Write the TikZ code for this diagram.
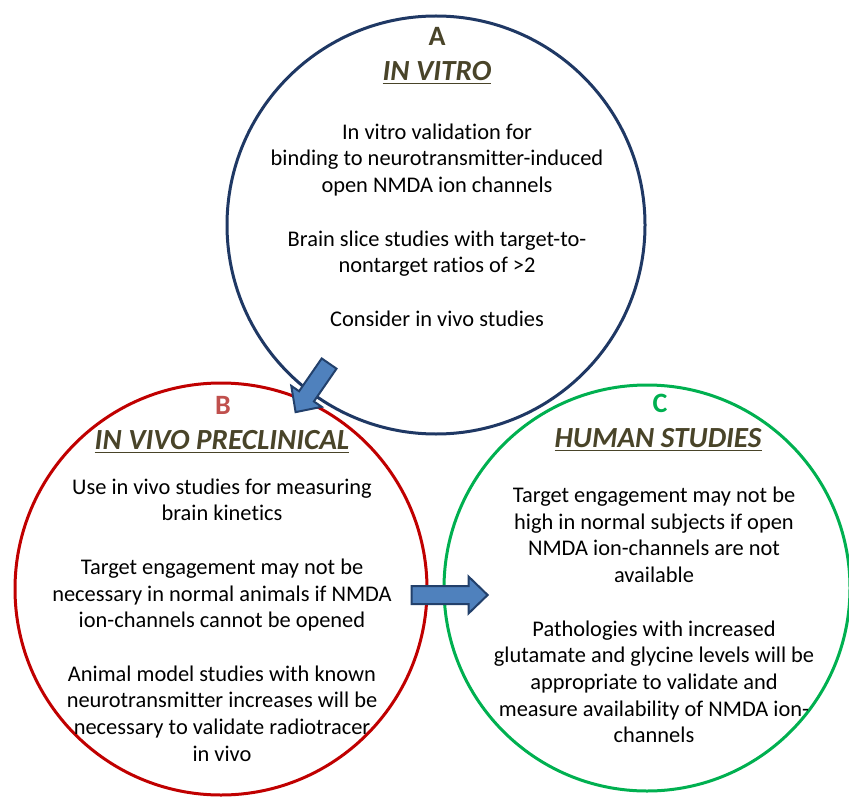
\documentclass[tikz,border=0pt]{standalone}
\usepackage{fontspec}
\setmainfont{Carlito}[Ligatures=NoCommon]
\usetikzlibrary{shapes.arrows}
\definecolor{navyA}{HTML}{1F3864}
\definecolor{redB}{HTML}{C00000}
\definecolor{greenC}{HTML}{00B050}
\definecolor{olive}{HTML}{494429}
\definecolor{letterB}{HTML}{C0504D}
\definecolor{arrowfill}{HTML}{4F81BD}
\definecolor{arrowline}{HTML}{22406B}
\begin{document}
\begin{tikzpicture}[x=0.5pt,y=-0.5pt,
  ring/.style={circle,line width=1.5pt,inner sep=0pt},
  letter/.style={font=\fontsize{14}{16}\selectfont\bfseries},
  heading/.style={font=\fontsize{14.6}{16}\selectfont\bfseries\itshape,text=olive},
  body/.style={align=center,font=\fontsize{11.2}{13.35}\selectfont},
  blockarrow/.style={single arrow,draw=arrowline,fill=arrowfill,line width=1pt,
    inner xsep=0pt,inner ysep=4pt,single arrow head extend=4.75pt,
    single arrow tip angle=88}]
\useasboundingbox (0,0) rectangle (849,796);
% circles
\node[ring,draw=navyA,minimum size=209pt] (A) at (436,225) {};
\node[ring,draw=redB,minimum size=206pt] (B) at (221,589) {};
\node[ring,draw=greenC,minimum size=203pt] (C) at (647,588) {};
% A
\node[letter,text=olive] (Aletter) at (437,36) {A};
\node[heading] (Ahead) at (437,73) {\underline{IN VITRO}};
\node[body] (Atext) at (437,225) {In vitro validation for\\
  binding to neurotransmitter-induced\\ open NMDA ion channels\\[13.35pt]
  Brain slice studies with target-to-\\ nontarget ratios of >2\\[13.35pt]
  Consider in vivo studies};
% B
\node[letter,text=letterB] (Bletter) at (223,405) {B};
\node[heading] (Bhead) at (222,442) {\underline{IN VIVO PRECLINICAL}};
\node[body] (Btext) at (222,620) {Use in vivo studies for measuring\\ brain kinetics\\[13.35pt]
  Target engagement may not be\\ necessary in normal animals if NMDA\\
  ion-channels cannot be opened\\[13.35pt]
  Animal model studies with known\\ neurotransmitter increases will be\\
  necessary to validate radiotracer\\ in vivo};
% C
\node[letter,text=greenC] (Cletter) at (660,403) {C};
\node[heading] (Chead) at (658,440) {\underline{HUMAN STUDIES}};
\node[body] (Ctext) at (654,615) {Target engagement may not be\\ high in normal subjects if open\\
  NMDA ion-channels are not\\ available\\[13.35pt]
  Pathologies with increased\\ glutamate and glycine levels will be\\
  appropriate to validate and\\ measure availability of NMDA ion-\\ channels};
% arrows
\node[blockarrow,minimum height=29.5pt,rotate=235.4] (AtoB) at (315,384) {};
\node[blockarrow,minimum height=38pt] (BtoC) at (445,595) {};
\end{tikzpicture}
\end{document}
